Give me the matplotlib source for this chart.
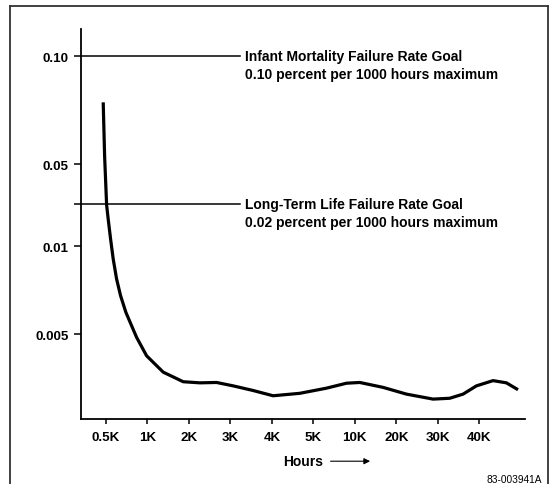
import numpy as np
import matplotlib
matplotlib.use("Agg")
import matplotlib.pyplot as plt
from matplotlib.lines import Line2D

plt.rcParams["font.family"] = ["Liberation Sans", "DejaVu Sans"]

# x axis is a stepped hour scale: one slot per label
hour_labels = ["0.5K", "1K", "2K", "3K", "4K", "5K", "10K", "20K", "30K", "40K"]

# y axis is a hand-drawn, non-uniform log scale; anchor values and their heights
y_anchor_vals = [0.001, 0.002, 0.005, 0.01, 0.02, 0.05, 0.10, 0.20]
y_anchor_pos = [-119, -31, 85, 173, 215, 255, 363, 471]
y_tick_vals = [0.005, 0.01, 0.02, 0.05, 0.10]
y_tick_labels = ["0.005", "0.01", "", "0.05", "0.10"]

# failure rate curve (percent per 1000 hours), x in hour-slot units
curve_x = [-0.065, -0.031, 0.017, 0.055, 0.113, 0.176, 0.258, 0.354, 0.482,
           0.619, 0.740, 0.981, 1.381, 1.863, 2.265, 2.667, 3.067, 3.549,
           4.031, 4.675, 5.318, 5.800, 6.120, 6.682, 7.246, 7.887, 8.289,
           8.610, 8.933, 9.333, 9.655, 9.935]
curve_y = [0.0743, 0.0526, 0.0197, 0.01561, 0.01122, 0.00903, 0.00771,
           0.00676, 0.00593, 0.00534, 0.00487, 0.00421, 0.00370, 0.00343,
           0.00340, 0.00341, 0.00332, 0.00320, 0.00307, 0.00313, 0.00326,
           0.00339, 0.00341, 0.00328, 0.00311, 0.00299, 0.00301, 0.00311,
           0.00332, 0.00346, 0.00340, 0.00322]

# goal lines
goal_vals = [0.10, 0.02]
goal_titles = ["Infant Mortality Failure Rate Goal", "Long-Term Life Failure Rate Goal"]
goal_notes = ["0.10 percent per 1000 hours maximum", "0.02 percent per 1000 hours maximum"]

log_anchor = np.log10(y_anchor_vals)


def fwd(v):
    v = np.clip(np.asarray(v, dtype=float), 1e-6, None)
    return np.interp(np.log10(v), log_anchor, y_anchor_pos)


def inv(p):
    return 10 ** np.interp(np.asarray(p, dtype=float), y_anchor_pos, log_anchor)


fig = plt.figure(figsize=(5.5, 4.85), dpi=100)
ax = fig.add_axes([0.1473, 0.134, 0.807, 0.804])
ax.set_yscale("function", functions=(fwd, inv))

ax.plot(curve_x, curve_y, color="black", lw=2.3, solid_joinstyle="round",
        solid_capstyle="butt")

line_end = 3.23
text_x = 3.35
for val, title, note in zip(goal_vals, goal_titles, goal_notes):
    ax.plot([-0.6, line_end], [val, val], color="black", lw=1.1)
    ax.text(text_x, val, title, fontsize=10, fontweight="bold", va="center", ha="left")
    ax.annotate(note, xy=(text_x, val), xytext=(0, -13), textcoords="offset points",
                fontsize=10, fontweight="bold", va="center", ha="left")

ax.set_xlim(-0.6, 10.1)
ax.set_ylim(float(inv(0)), float(inv(390)))

ax.set_xticks(range(len(hour_labels)))
ax.set_xticklabels(hour_labels, fontsize=9.6, fontweight="bold")
ax.set_yticks(y_tick_vals)
ax.set_yticklabels(y_tick_labels, fontsize=9.6, fontweight="bold")
ax.yaxis.set_minor_locator(matplotlib.ticker.NullLocator())
ax.tick_params(axis="y", length=5, width=1.1, pad=4)
ax.tick_params(axis="x", length=3.6, width=1.1, pad=5)

for side in ["top", "right"]:
    ax.spines[side].set_visible(False)
for side in ["left", "bottom"]:
    ax.spines[side].set_linewidth(1.3)

# "Hours" label with arrow
fig.text(0.514, 0.047, "Hours", fontsize=10, fontweight="bold", ha="left", va="center")
ax.annotate("", xy=(0.678, 0.047), xytext=(0.596, 0.047), xycoords="figure fraction",
            textcoords="figure fraction",
            arrowprops=dict(arrowstyle="-|>", color="black", lw=0.8,
                            mutation_scale=9))

fig.text(0.985, 0.011, "83-003941A", fontsize=7.3, ha="right", va="center")

# frame around the figure
fig.add_artist(Line2D([0.019, 0.019], [0.0, 0.986], color="#333333", lw=1.3))
fig.add_artist(Line2D([0.019, 0.996], [0.986, 0.986], color="#333333", lw=1.3))
fig.add_artist(Line2D([0.996, 0.996], [0.0, 0.986], color="#333333", lw=1.3))

fig.savefig("out.png", dpi=100)
